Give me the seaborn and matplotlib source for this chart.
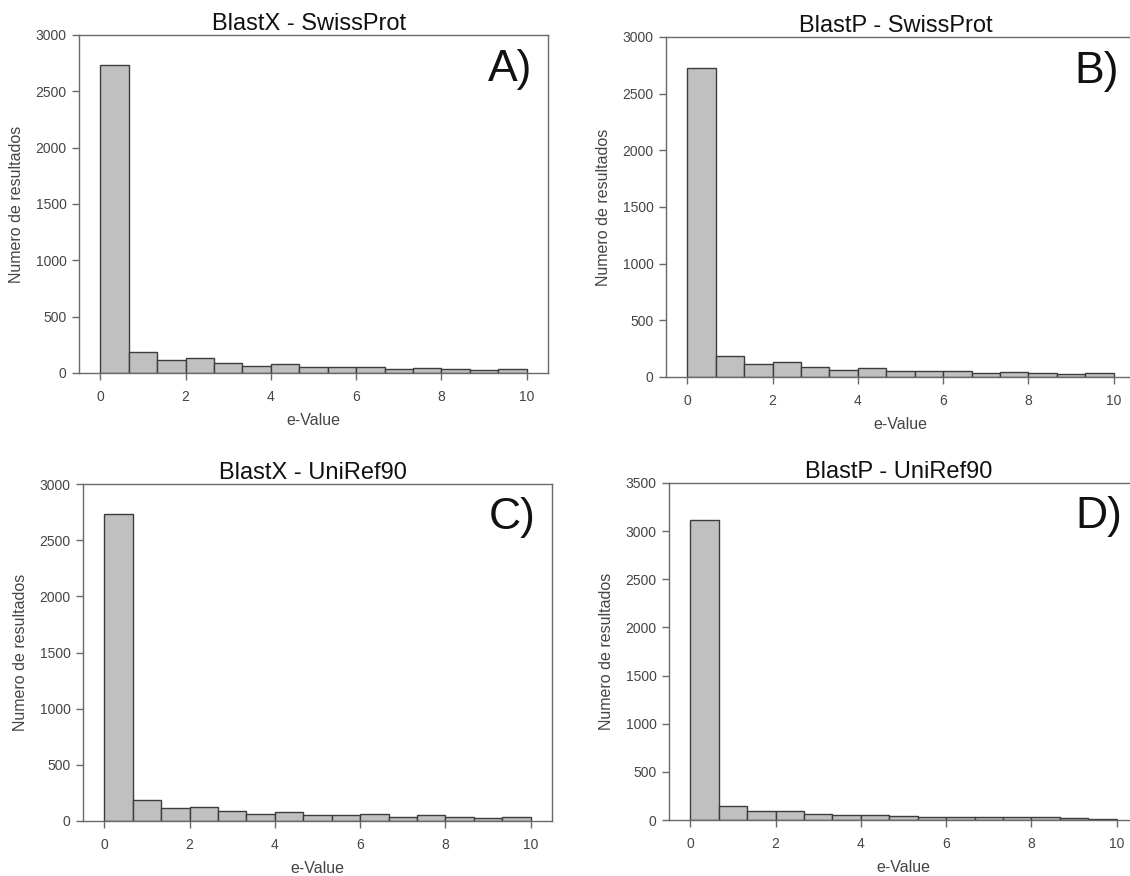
import numpy as np
import pandas as pd
import matplotlib
matplotlib.use("Agg")
import matplotlib.pyplot as plt
import seaborn as sns

# ---- data (counts per e-value bin, 15 bins between 0 and 10) ----
bin_lo = 0.0
bin_hi = 10.0
n_bins = 15
counts_blastx_swissprot = [2730, 188, 114, 129, 91, 65, 77, 52, 53, 57, 39, 48, 39, 29, 35]
counts_blastp_swissprot = [2730, 188, 114, 129, 91, 65, 77, 52, 53, 57, 39, 48, 39, 29, 35]
counts_blastx_uniref90 = [2730, 188, 114, 129, 91, 66, 78, 54, 53, 58, 40, 49, 40, 29, 35]
counts_blastp_uniref90 = [3115, 145, 90, 97, 62, 48, 55, 38, 31, 31, 28, 28, 28, 17, 14]
titles = ["BlastX - SwissProt", "BlastP - SwissProt", "BlastX - UniRef90", "BlastP - UniRef90"]
panel_letters = ["A)", "B)", "C)", "D)"]
y_max = [3000, 3000, 3000, 3500]
x_ticks = [0, 2, 4, 6, 8, 10]

sns.set_theme(style="white")
plt.rcParams["font.family"] = ["Liberation Sans", "DejaVu Sans"]

W, H = 1130, 876
fig = plt.figure(figsize=(W / 100, H / 100), dpi=100)
fig.patch.set_facecolor("white")

# axes boxes in pixels: left, top, right, bottom
boxes = [(79, 35, 548, 373), (666, 37, 1135, 377), (83, 484, 552, 821), (669, 483, 1138, 820)]
all_counts = [counts_blastx_swissprot, counts_blastp_swissprot, counts_blastx_uniref90, counts_blastp_uniref90]

edges = np.linspace(bin_lo, bin_hi, n_bins + 1)
centers = (edges[:-1] + edges[1:]) / 2

spine_col = "#6a6a6a"
tick_col = "#454545"

for i, (box, counts) in enumerate(zip(boxes, all_counts)):
    l, t, r, b = box
    ax = fig.add_axes([l / W, 1 - b / H, (r - l) / W, (b - t) / H])
    df = pd.DataFrame({"e": centers, "n": counts})
    sns.histplot(data=df, x="e", weights="n", bins=n_bins, binrange=(bin_lo, bin_hi),
                 color="#c0c0c0", edgecolor="#3c3c3c", linewidth=1.0, alpha=1.0, ax=ax)
    ax.set_xlim(-0.5, 10.5)
    ax.set_ylim(0, y_max[i])
    ax.set_xticks(x_ticks)
    ax.set_yticks(np.arange(0, y_max[i] + 1, 500))
    ax.tick_params(axis="both", direction="out", length=5, width=1, color=spine_col,
                   labelsize=10, labelcolor=tick_col, pad=4, bottom=True, left=True)
    ax.tick_params(axis="x", pad=7)
    for s in ax.spines.values():
        s.set_visible(True)
        s.set_color(spine_col)
        s.set_linewidth(1.0)
    ax.set_xlabel("e-Value", fontsize=11.5, color=tick_col, labelpad=7)
    ax.set_ylabel("Numero de resultados", fontsize=11.5, color=tick_col, labelpad=8)
    ax.grid(False)
    ax.text(0.49, 1.0, titles[i], transform=ax.transAxes, ha="center", va="bottom",
            fontsize=17, color="#111111")
    ax.text(0.966, 0.96, panel_letters[i], transform=ax.transAxes, ha="right", va="top",
            fontsize=32, color="#111111")

fig.savefig("out.png", dpi=100, facecolor="white")
